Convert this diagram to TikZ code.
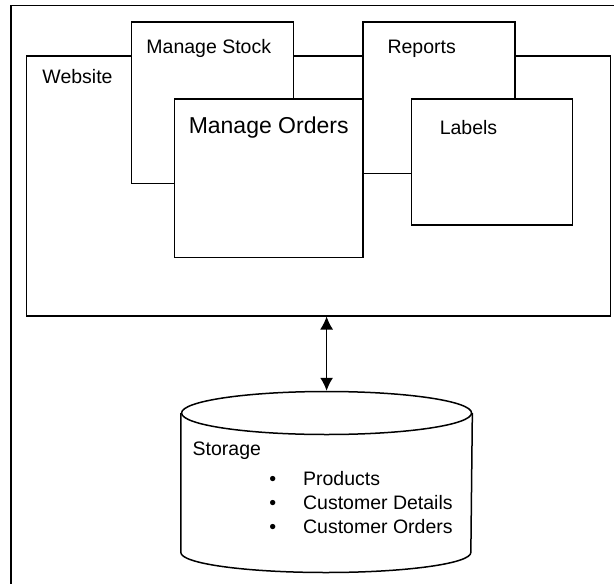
\documentclass[tikz,border=0pt]{standalone}
\usepackage{fontspec}
\setmainfont{Liberation Sans}
\usepackage{tikz}
\usetikzlibrary{arrows.meta, shapes.geometric}
\tikzset{lbl/.style={inner sep=0pt, anchor=base west, font=\fontsize{19.5}{24}\selectfont}}

\begin{document}
\begin{tikzpicture}[x=1pt, y=-1pt, line width=1.5pt, >={Latex[length=13pt,width=13pt]},
  box/.style={draw, fill=white, inner sep=0pt, anchor=north west}]
\useasboundingbox (0,0) rectangle (614,584);
% outer frame, open to the right and below
\draw (11,584) |- (614,5.7);
% website and its parts
\node[box, minimum width=584.2pt, minimum height=260pt] (website) at (25.5,55) {};
\node[lbl] (website-title) at ([xshift=16.2pt, yshift=-28.5pt]website.north west) {Website};
\node[box, minimum width=162pt, minimum height=161.7pt] (stock) at (130.7,21) {};
\node[lbl] (stock-title) at ([xshift=15pt, yshift=-32.5pt]stock.north west) {Manage Stock};
\node[box, minimum width=188.6pt, minimum height=158.7pt] (orders) at (173.7,98) {};
\node[lbl, font=\fontsize{23}{28}\selectfont] (orders-title) at ([xshift=14.3pt, yshift=-35.3pt]orders.north west) {Manage Orders};
\node[box, minimum width=151.7pt, minimum height=151.7pt] (reports) at (362.3,21) {};
\node[lbl] (reports-title) at ([xshift=24.5pt, yshift=-32.5pt]reports.north west) {Reports};
\node[box, minimum width=161pt, minimum height=126pt] (labels) at (410.7,98) {};
\node[lbl] (labels-title) at ([xshift=28.3pt, yshift=-36.3pt]labels.north west) {Labels};
% storage cylinder
\node[ellipse, draw, inner sep=0pt, minimum width=290pt, minimum height=43pt] (storage) at (326.6,413) {};
\draw (storage.west) -- ++(0,139.5) arc[start angle=180, end angle=0, x radius=145, y radius=20] -- (storage.east);
\node[lbl] (storage-title) at ([xshift=11.1pt, yshift=-42pt]storage.west) {Storage};
\node[lbl] (storage-items) at ([xshift=87.7pt, yshift=-72.5pt]storage.west) {\begin{tabular}[t]{@{}l@{\hspace{27pt}}l@{}}
\textbullet & Products\\
\textbullet & Customer Details\\
\textbullet & Customer Orders
\end{tabular}};
\draw[<->, line width=1.3pt] (website.south -| storage.north) -- (storage.north);
\end{tikzpicture}
\end{document}
